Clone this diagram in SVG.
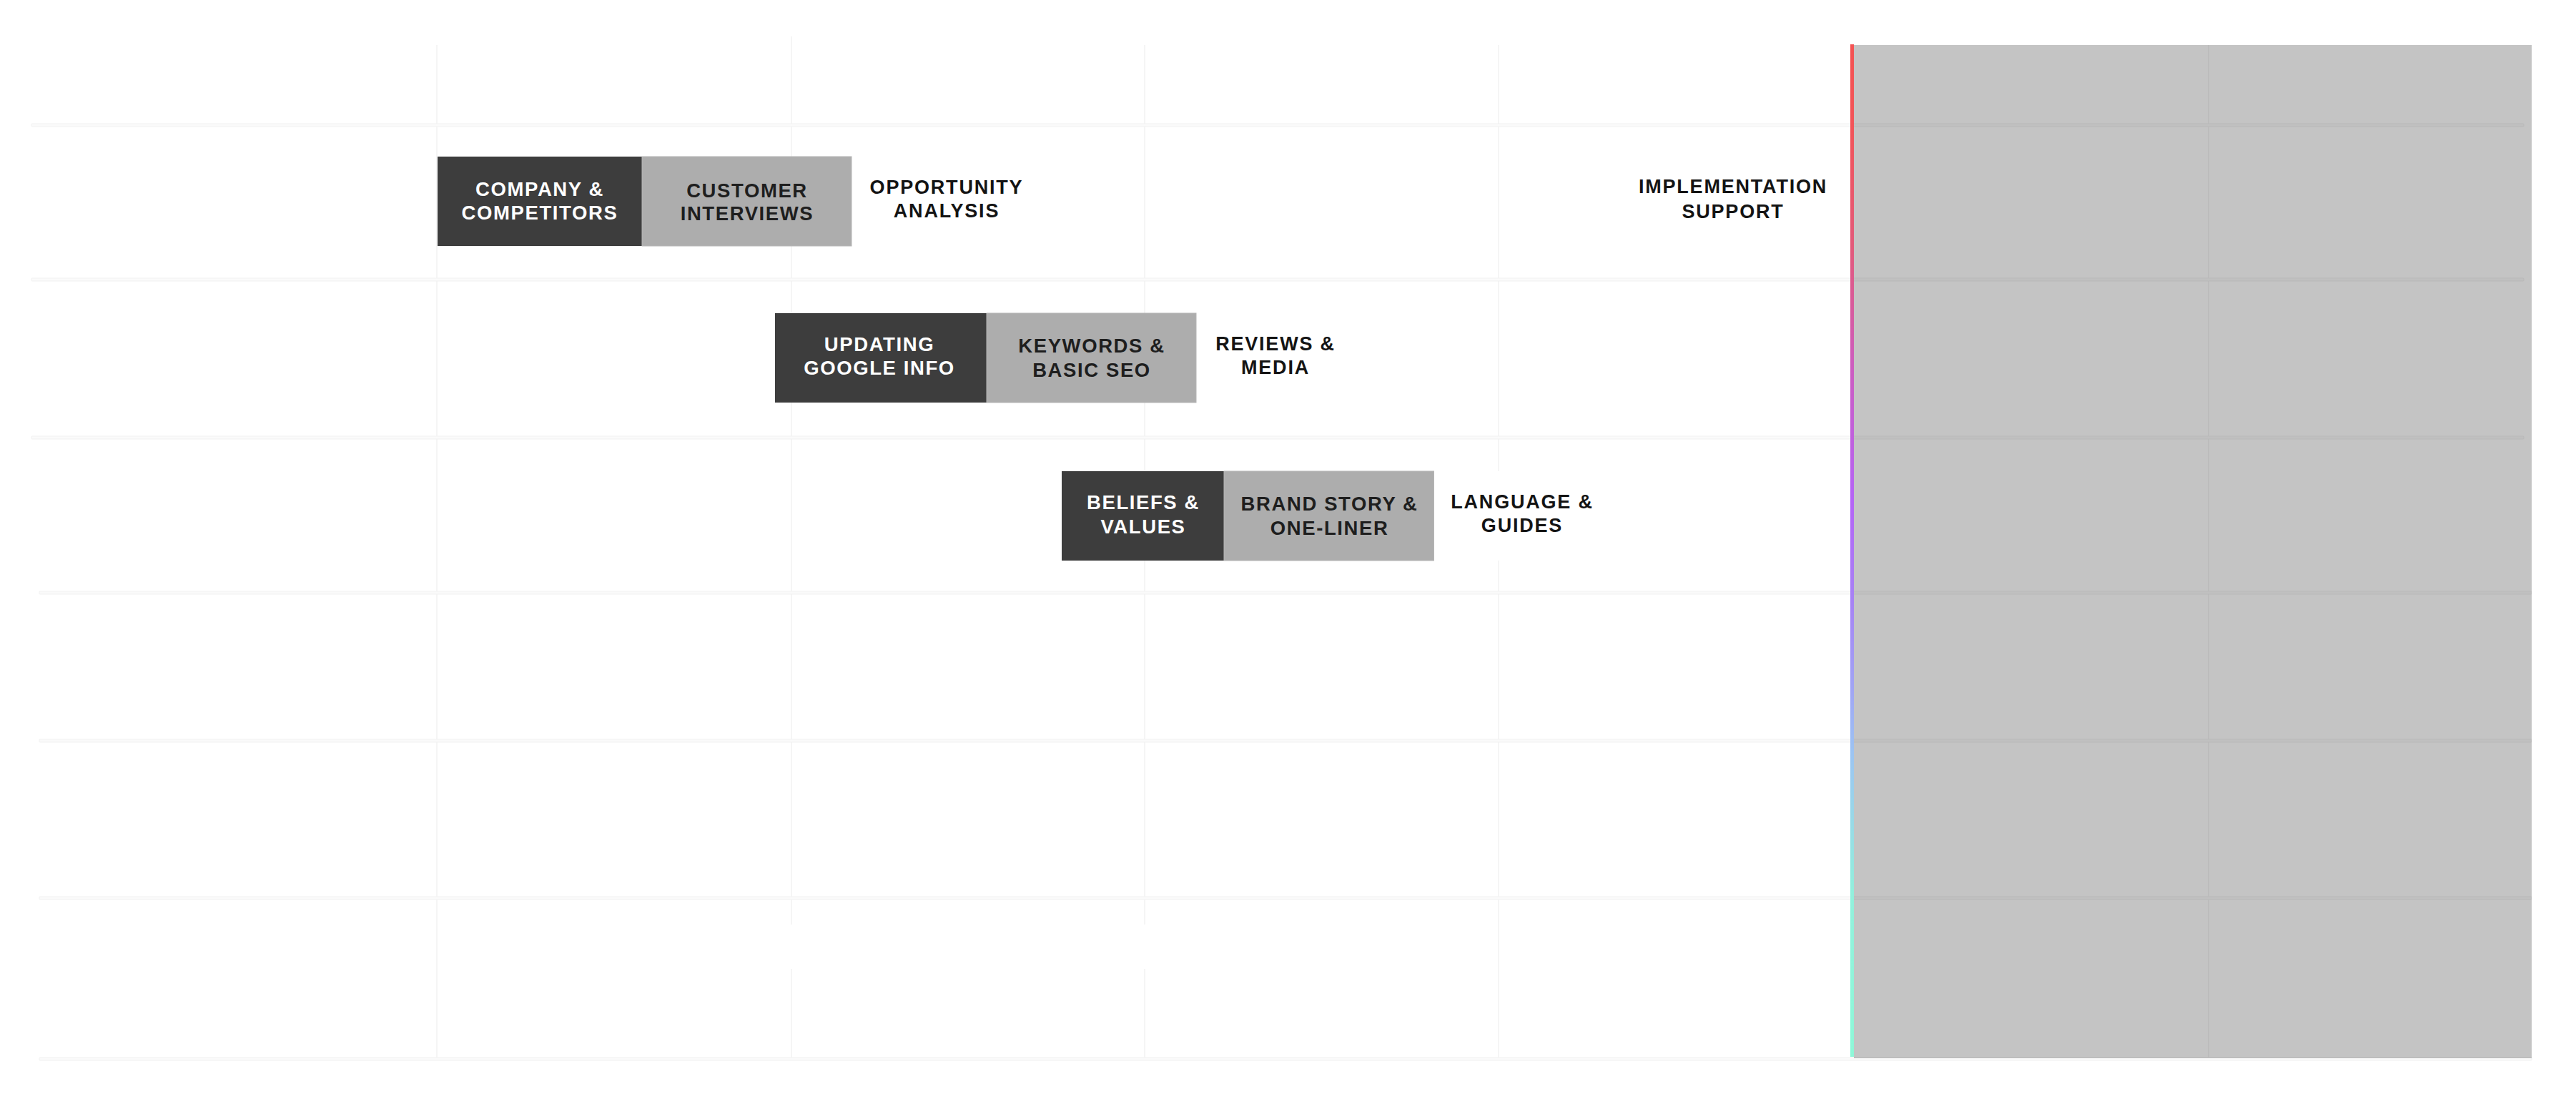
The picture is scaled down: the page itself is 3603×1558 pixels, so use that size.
<svg xmlns="http://www.w3.org/2000/svg" width="3603" height="1558" viewBox="0 0 3603 1558">
<style>
.bg{fill:#ffffff}
.hl{fill:#fafafa;stroke:#f1f1f1;stroke-width:1}
.vl{fill:#f5f5f5}
.dark{fill:#3d3d3d}
.light{fill:#adadad;stroke:#b6b6b6;stroke-width:1}
.lbg{fill:#ffffff}
text{font-family:"Liberation Sans",Arial,sans-serif;font-weight:bold;text-anchor:middle}
.td{font-size:27.5px;letter-spacing:1.6px;fill:#ffffff}
.tl{font-size:27.5px;letter-spacing:1.6px;fill:#1e1e1e}
.tx{font-size:27px;letter-spacing:1.8px;fill:#141414}
</style>
<defs>
<linearGradient id="grad" x1="0" y1="0" x2="0" y2="1">
<stop offset="0" stop-color="#f45252"/>
<stop offset="0.08" stop-color="#f25458"/>
<stop offset="0.2" stop-color="#e25a7a"/>
<stop offset="0.32" stop-color="#cc5cc0"/>
<stop offset="0.45" stop-color="#b464f6"/>
<stop offset="0.55" stop-color="#a682f4"/>
<stop offset="0.64" stop-color="#a0a6f4"/>
<stop offset="0.7" stop-color="#9cc4f2"/>
<stop offset="0.77" stop-color="#98dae6"/>
<stop offset="0.84" stop-color="#92f0dc"/>
<stop offset="1" stop-color="#8ef8d8"/>
</linearGradient>
</defs>
<rect class="bg" x="0" y="0" width="3603" height="1558"/>
<g id="grid">
<rect class="vl" x="610" y="63" width="2" height="1417"/>
<rect class="vl" x="1106" y="51" width="2" height="1242"/>
<rect class="vl" x="1106" y="1355" width="2" height="125"/>
<rect class="vl" x="1600" y="63" width="2" height="1230"/>
<rect class="vl" x="1600" y="1355" width="2" height="125"/>
<rect class="vl" x="2095" y="63" width="2" height="1417"/>
<rect class="vl" x="3088" y="63" width="2" height="1417"/>
<rect class="hl" x="44" y="173" width="3486" height="4" rx="1"/>
<rect class="hl" x="44" y="389" width="3486" height="4" rx="1"/>
<rect class="hl" x="44" y="610" width="3486" height="4" rx="1"/>
<rect class="hl" x="55" y="827" width="3486" height="4" rx="1"/>
<rect class="hl" x="55" y="1034" width="3486" height="4" rx="1"/>
<rect class="hl" x="55" y="1254" width="3486" height="4" rx="1"/>
<rect class="hl" x="55" y="1479" width="3486" height="4" rx="1"/>
</g>
<g id="connectors"></g>
<g id="node-company-competitors">
<rect class="dark" x="612" y="219" width="286" height="125"/>
<text class="td" x="755" y="274">COMPANY &amp;</text>
<text class="td" x="755" y="307">COMPETITORS</text>
</g>
<g id="node-customer-interviews">
<rect class="light" x="898" y="219" width="293" height="125"/>
<text class="tl" x="1045" y="275.5">CUSTOMER</text>
<text class="tl" x="1045" y="307.5">INTERVIEWS</text>
</g>
<g id="node-opportunity-analysis">
<rect class="lbg" x="1192" y="219" width="264" height="125"/>
<text class="tx" x="1324" y="270.7">OPPORTUNITY</text>
<text class="tx" x="1324" y="304.3">ANALYSIS</text>
</g>
<g id="node-updating-google-info">
<rect class="dark" x="1084" y="438" width="296" height="125"/>
<text class="td" x="1230" y="490.6">UPDATING</text>
<text class="td" x="1230" y="524">GOOGLE INFO</text>
</g>
<g id="node-keywords-basic-seo">
<rect class="light" x="1380" y="438" width="293" height="125"/>
<text class="tl" x="1527" y="493">KEYWORDS &amp;</text>
<text class="tl" x="1527" y="526.6">BASIC SEO</text>
</g>
<g id="node-reviews-media">
<rect class="lbg" x="1674" y="438" width="220" height="125"/>
<text class="tx" x="1784" y="490">REVIEWS &amp;</text>
<text class="tx" x="1784" y="523">MEDIA</text>
</g>
<g id="node-beliefs-values">
<rect class="dark" x="1485" y="659" width="227" height="125"/>
<text class="td" x="1599" y="711.6">BELIEFS &amp;</text>
<text class="td" x="1599" y="745.5">VALUES</text>
</g>
<g id="node-brand-story">
<rect class="light" x="1712" y="659" width="293.5" height="125"/>
<text class="tl" x="1859.6" y="714">BRAND STORY &amp;</text>
<text class="tl" x="1859.6" y="747.6">ONE-LINER</text>
</g>
<g id="node-language-guides">
<rect class="lbg" x="2006" y="659" width="246" height="125"/>
<text class="tx" x="2129" y="710.6">LANGUAGE &amp;</text>
<text class="tx" x="2129" y="744">GUIDES</text>
</g>
<g id="node-implementation-support">
<text class="tx" x="2424" y="270">IMPLEMENTATION</text>
<text class="tx" x="2424" y="304.5">SUPPORT</text>
</g>
<g id="future-overlay">
<rect x="2593" y="63" width="948" height="1417" fill="#000000" fill-opacity="0.231"/>
<rect x="2588" y="62" width="5" height="1416" fill="url(#grad)"/>
</g>
</svg>
